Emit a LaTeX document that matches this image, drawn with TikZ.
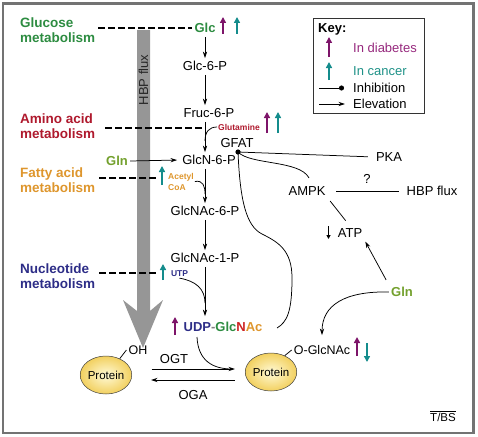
\documentclass[tikz,border=0pt]{standalone}
\usepackage{fontspec}
\setmainfont{Liberation Sans}
\usetikzlibrary{arrows.meta,shapes.geometric}
\definecolor{cgreen}{RGB}{45,140,65}
\definecolor{cred}{RGB}{175,25,45}
\definecolor{cnred}{RGB}{205,35,35}
\definecolor{corange}{RGB}{222,150,45}
\definecolor{cnavy}{RGB}{45,45,135}
\definecolor{cgln}{RGB}{115,160,45}
\definecolor{cpurple}{RGB}{125,20,105}
\definecolor{cteal}{RGB}{20,140,140}
\definecolor{ckeypurple}{RGB}{150,40,125}
\definecolor{ckeyteal}{RGB}{30,145,135}
\definecolor{cflux}{RGB}{150,150,150}
\definecolor{cframe}{RGB}{115,115,115}
\definecolor{pin}{RGB}{255,250,215}
\definecolor{pout}{RGB}{242,208,95}
\tikzset{
  lab/.style={font=\fontsize{13}{15}\selectfont, inner sep=2pt, text height=9.3pt, text depth=0pt},
  blab/.style={lab, font=\fontsize{13}{15}\selectfont\bfseries},
  met/.style={font=\fontsize{13.5}{14.5}\selectfont\bfseries, align=left, anchor=west, inner sep=1pt},
  slab/.style={font=\fontsize{8.5}{11}\selectfont\bfseries, inner sep=1pt},
  ln/.style={line width=0.75pt},
  arr/.style={ln, -{Stealth[length=6.5pt,width=4.2pt]}},
  dashl/.style={line width=1.6pt, dash pattern=on 6.5pt off 3.5pt},
  flag/.style={line width=1.9pt, -{Triangle[length=6pt,width=6pt]}},
  prot/.style={ellipse, draw=black!75, line width=0.5pt, inner color=pin, outer color=pout, minimum width=45pt, minimum height=38pt, inner sep=0pt, font=\fontsize{11.5}{12}\selectfont},
}
\begin{document}
\begin{tikzpicture}[x=1pt,y=-1pt]
\useasboundingbox (0,0) rectangle (478,436);
\draw[cframe, line width=2.5pt] (3,3.5) rectangle (473.5,433);

% HBP flux arrow
\fill[cflux] (137,30) -- (150,30) -- (150,311) -- (163,300) -- (143,348) -- (123,300) -- (137,311) -- cycle;
\node[lab, rotate=90, text=black!85] (hbpflux) at (143.5,80) {HBP flux};

% metabolism labels
\node[met, text=cgreen] (glucose) at (19,30) {Glucose\\metabolism};
\node[met, text=cred] (amino) at (19,126) {Amino acid\\metabolism};
\node[met, text=corange] (fatty) at (19,180) {Fatty acid\\metabolism};
\node[met, text=cnavy] (nucleo) at (19,276) {Nucleotide\\metabolism};

% main chain
\coordinate (col) at (205,0);
\node[blab, text=cgreen] (glc) at (205,28) {Glc};
\node[lab] (g6p) at (205,66) {Glc-6-P};
\node[lab] (f6p) at (209,113) {Fruc-6-P};
\node[lab] (gfat) at (237,143) {GFAT};
\node[lab] (gn6p) at (209,160) {GlcN-6-P};
\node[lab] (gna6p) at (205,211) {GlcNAc-6-P};
\node[lab] (gna1p) at (205,258) {GlcNAc-1-P};
\node[blab] (udp) at (223,327) {\textcolor{cnavy}{UDP}\textcolor{gray}{-}\textcolor{cgreen}{Glc}\textcolor{cnred}{N}\textcolor{corange}{Ac}};

\draw[arr, shorten <=2pt, shorten >=1pt] (glc.south -| col) -- (g6p.north -| col);
\draw[arr, shorten <=2pt, shorten >=1pt] (g6p.south -| col) -- (f6p.north -| col);
\draw[arr, shorten <=2pt, shorten >=1pt] (f6p.south -| col) -- (gn6p.north -| col);
\draw[arr, shorten <=2pt, shorten >=1pt] (gn6p.south -| col) -- (gna6p.north -| col);
\draw[arr, shorten <=2pt, shorten >=1pt] (gna6p.south -| col) -- (gna1p.north -| col);
\draw[arr, shorten <=2pt, shorten >=4pt] (gna1p.south -| col) -- (udp.north -| col);

% side inputs
\node[slab, text=cred] (gluta) at (239,127) {Glutamine};
\coordinate (jglu) at (205,141);
\draw[ln] (gluta.west) .. controls (209,127) and (205,132) .. (jglu);
\node[slab, text=corange, align=left, anchor=west] (acetyl) at (167,181.5) {Acetyl\\CoA};
\coordinate (jace) at (205,194);
\draw[ln] (acetyl.east) .. controls (203,180) and (205,186) .. (jace);
\node[slab, text=cnavy] (utp) at (179.5,274) {UTP};
\coordinate (jutp) at (205,303);
\draw[ln] (utp.south) .. controls (196,281) and (205,289) .. (jutp);
\node[blab, text=cgln] (gln1) at (117,161) {Gln};
\draw[arr, shorten >=3pt] (gln1.east) -- (gn6p.west);

% dashed lines
\draw[dashl, shorten <=2pt] (glucose.east |- glc) -- (glc.west);
\coordinate (aj) at (203,128);
\draw[dashl, shorten <=9pt] (amino.east |- aj) -- (aj);
\coordinate (fj) at (157,178);
\draw[dashl, shorten <=3pt] (fatty.east |- fj) -- (fj);
\coordinate (nj) at (157,273);
\draw[dashl, shorten <=3pt] (nucleo.east |- nj) -- (nj);

% coloured flags
\draw[flag, cpurple] (223,34) -- (223,17);
\draw[flag, cteal] (237,34) -- (237,17);
\draw[flag, cpurple] (267,133) -- (267,112);
\draw[flag, cteal] (278,133) -- (278,112);
\draw[flag, cteal] (162,185) -- (162,166);
\draw[flag, cteal] (163,280) -- (163,264);
\draw[flag, cpurple] (175,335) -- (175,317);
\draw[flag, cpurple] (357,356) -- (357,337);
\draw[flag, cteal] (367,343) -- (367,362);

% right side
\coordinate (gdot) at (238,152);
\node[lab] (pka) at (389,157) {PKA};
\node[lab] (ampk) at (307,191) {AMPK};
\node[lab] (q) at (367,179) {?};
\node[lab] (hbp2) at (432,191) {HBP flux};
\node[lab] (atp) at (350,233) {ATP};
\node[blab, text=cgln] (gln2) at (402,292) {Gln};
\coordinate (ampkT) at (309,178);
\coordinate (udpR) at (277,328);
\draw[ln, shorten >=6pt] (gdot) -- (pka.west);
\draw[ln] (gdot) .. controls (250,165) and (300,160) .. (ampkT);
\draw[ln] (gdot) .. controls (240,200) and (246,226) .. (262,234) .. controls (278,242) and (292,250) .. (292,278) .. controls (292,312) and (287,322) .. (udpR);
\draw[ln, shorten <=8.5pt, shorten >=6pt] (ampk.east) -- (hbp2.west);
\draw[ln, shorten <=4pt, shorten >=7pt] (ampk.south east) -- (atp.north);
\draw[line width=1pt, -{Triangle[length=4pt,width=4pt]}] (328.5,226) -- (328.5,239);
\draw[arr, shorten <=6pt, shorten >=2pt] (gln2.north west) -- (atp.south east);
\fill (gdot) circle (2.6pt);

% proteins
\node[prot] (protL) at (106,375) {Protein};
\node[prot] (protR) at (271,372) {Protein};
\node[lab, font=\fontsize{12.5}{14}\selectfont] (oh) at (138,350) {OH};
\node[lab, font=\fontsize{12.5}{14}\selectfont] (ogl) at (322,350) {O-GlcNAc};
\draw[ln] (protL.50) -- (oh.west);
\draw[ln] (protR.50) -- (ogl.west);
\draw[arr, shorten >=8pt] (gln2.west) .. controls (345,291) and (322,305) .. (ogl.north);

\coordinate (yogt) at (0,369);
\coordinate (yoga) at (0,380);
\draw[arr, shorten <=19.5pt, shorten >=10pt] (protL.east |- yogt) -- (protR.west |- yogt);
\draw[arr, shorten <=10pt, shorten >=19pt] (protR.west |- yoga) -- (protL.east |- yoga);
\node[lab] (ogt) at (174,359) {OGT};
\node[lab] (oga) at (193,395) {OGA};
\coordinate (udpS) at (197,337);
\coordinate (ogtJ) at (232,369);
\draw[ln] (udpS) .. controls (198,360) and (212,369) .. (ogtJ);

% key
\node[draw=black!80, line width=0.8pt, minimum width=111pt, minimum height=95pt, inner sep=0pt] (key) at (368.5,65.5) {};
\node[blab, anchor=west] (keyt) at (316,28) {Key:};
\draw[flag, cpurple] (329,57) -- (329,37);
\node[lab, anchor=west, text=ckeypurple] (kdia) at (351,48) {In diabetes};
\draw[flag, cteal] (329,80) -- (329,62);
\node[lab, anchor=west, text=ckeyteal] (kcan) at (351,71) {In cancer};
\node[lab, anchor=west] (kinh) at (351,88) {Inhibition};
\node[lab, anchor=west] (kelv) at (351,104) {Elevation};
\coordinate (kinhS) at (319,88);
\coordinate (kelvS) at (319,104);
\draw[ln, -{Circle[length=5pt]}, shorten >=7pt] (kinhS) -- (kinh.west);
\draw[arr, shorten >=6pt] (kelvS) -- (kelv.west);

\node[font=\fontsize{11.5}{13}\selectfont, inner sep=1pt] (tbs) at (443,416) {$\overline{\mbox{T/BS}}$};
\end{tikzpicture}
\end{document}
